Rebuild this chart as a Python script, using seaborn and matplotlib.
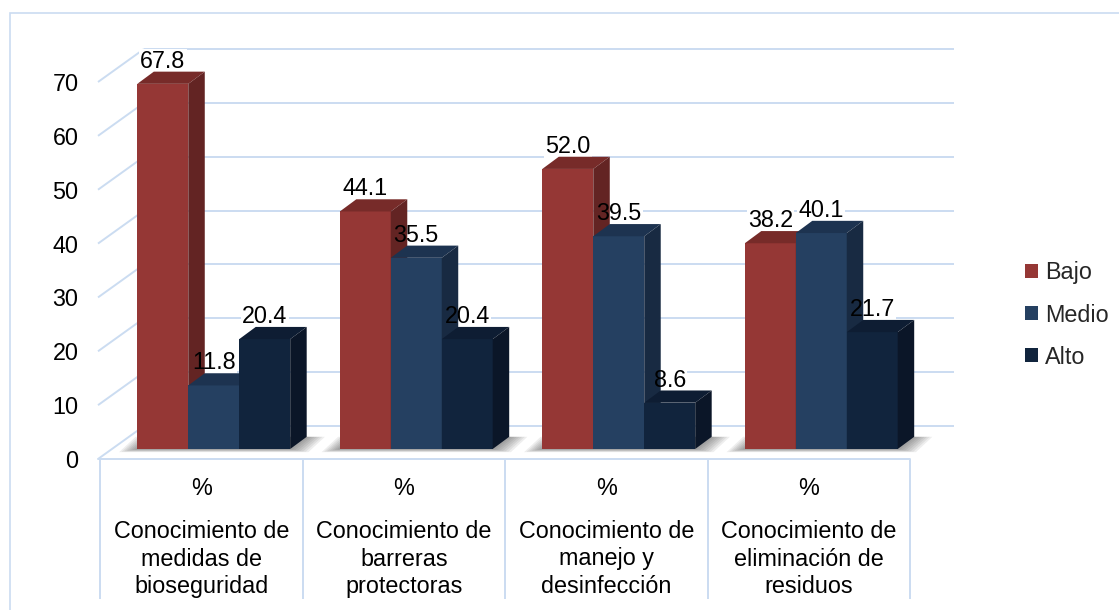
import numpy as np
import pandas as pd
import matplotlib
matplotlib.use("Agg")
import matplotlib.pyplot as plt
import seaborn as sns
from matplotlib.patches import Polygon, Rectangle, Patch
from matplotlib.transforms import ScaledTranslation

# ---- data -------------------------------------------------------------
categories = [
    "Conocimiento de\nmedidas de\nbioseguridad",
    "Conocimiento de\nbarreras\nprotectoras",
    "Conocimiento de\nmanejo y\ndesinfección",
    "Conocimiento de\neliminación de\nresiduos",
]
sub_label = "%"
levels = ["Bajo", "Medio", "Alto"]
bajo = [67.8, 44.1, 52.0, 38.2]
medio = [11.8, 35.5, 39.5, 40.1]
alto = [20.4, 20.4, 8.6, 21.7]
y_ticks = [0, 10, 20, 30, 40, 50, 60, 70]

df = pd.DataFrame({
    "categoria": categories * 3,
    "nivel": np.repeat(levels, len(categories)),
    "valor": bajo + medio + alto,
})

# ---- style ------------------------------------------------------------
sns.set_theme(style="white")
plt.rcParams["font.family"] = ["Liberation Sans", "DejaVu Sans"]
FS = 16.8
GRID = "#cbdcf1"

front_col = {"Bajo": "#953735", "Medio": "#254061", "Alto": "#11243d"}
top_col = {"Bajo": "#772b29", "Medio": "#1d3350", "Alto": "#0e1d33"}
side_col = {"Bajo": "#632423", "Medio": "#182a42", "Alto": "#0b1628"}

W, H = 1119, 610
fig = plt.figure(figsize=(W / 100, H / 100), dpi=100)
fig.patch.set_facecolor("white")

# front plane of the 3-D box: floor edge at y=459 px, 70 at y=82 px
ax_left, ax_right, ax_floor, ax_top = 100, 910, 459, 82
ax = fig.add_axes([ax_left / W, (H - ax_floor) / H,
                   (ax_right - ax_left) / W, (ax_floor - ax_top) / H])

sns.barplot(data=df, x="categoria", y="valor", hue="nivel", hue_order=levels,
            order=categories, palette=front_col, saturation=1, width=0.755,
            linewidth=0, edgecolor="none", legend=False, ax=ax)
ax.set_xlim(-0.5, len(categories) - 0.5)
ax.set_ylim(0, 70)

# data units per pixel
kx = (len(categories)) / (ax_right - ax_left)
ky = 70 / (ax_floor - ax_top)

# perspective offsets in pixels
BACK = (44, 33)      # front plane -> back wall
BAR = (12.5, 10)     # front plane -> front face of bars
DEPTH = (16.5, 12.2)  # thickness of each bar

def shifted(dx, dy):
    return ax.transData + ScaledTranslation(dx / 100, dy / 100, fig.dpi_scale_trans)

back_tr = shifted(*BACK)
bar_tr = shifted(*BAR)
ddx, ddy = DEPTH[0] * kx, DEPTH[1] * ky

# back wall grid and side wall diagonals
ax.hlines(y_ticks, -0.5, len(categories) - 0.5, colors=GRID, lw=1.4,
          transform=back_tr, zorder=0.5, clip_on=False)
for v in y_ticks:
    ax.plot([-0.5 - 2 * kx, -0.5 + BACK[0] * kx], [v, v + BACK[1] * ky],
            color=GRID, lw=1.4, zorder=0.5, clip_on=False, solid_capstyle="butt")
# floor front edge and category table
ax.plot([-0.5 - 2 * kx, len(categories) - 0.5], [0, 0], color=GRID, lw=1.4,
        zorder=0.6, clip_on=False)
ax.vlines(np.arange(len(categories) + 1) - 0.5, -(599 - ax_floor) * ky, 0,
          colors=GRID, lw=1.4, zorder=0.6, clip_on=False)

# ---- 3-D bars built from the seaborn rectangles ----------------------
bars = list(ax.patches)
bw = bars[0].get_width()
label_tr = bar_tr + ScaledTranslation(0, 0.16, fig.dpi_scale_trans)
groups = {}
for p in bars:
    x, w, h = p.get_x(), p.get_width(), p.get_height()
    xc = x + w / 2
    cat = int(round(xc))
    j = int(round((xc - cat) / bw)) + 1
    lvl = levels[j]
    groups.setdefault(cat, []).append((x, w))
    p.set_transform(bar_tr)
    p.set_zorder(3 + 2 * j)
    p.set_clip_on(False)
    top = Polygon([(x, h), (x + w, h), (x + w + ddx, h + ddy), (x + ddx, h + ddy)],
                  closed=True, fc=top_col[lvl], ec="none", transform=bar_tr,
                  zorder=3.5 + 2 * j, clip_on=False)
    side = Polygon([(x + w, 0), (x + w + ddx, ddy), (x + w + ddx, h + ddy), (x + w, h)],
                   closed=True, fc=side_col[lvl], ec="none", transform=bar_tr,
                   zorder=3.5 + 2 * j, clip_on=False)
    ax.add_patch(top)
    ax.add_patch(side)
    # white label box sits behind the bars, the number itself in front
    ax.text(xc, h, f"{h:.1f}", transform=label_tr, ha="center", va="baseline",
            fontsize=FS, color="none", zorder=2,
            bbox=dict(fc="white", ec="none", pad=0.8), clip_on=False)
    ax.text(xc, h, f"{h:.1f}", transform=label_tr, ha="center", va="baseline",
            fontsize=FS, color="black", zorder=20, clip_on=False)

# soft shadow on the floor under each group
for cat, items in groups.items():
    x0 = min(x for x, w in items)
    x1 = max(x + w for x, w in items)
    for k in range(1, 8):
        ex = k * 2.6 * kx
        ey = k * 0.45 * ky
        poly = Polygon([(x0 - ex, -ey), (x1 + ex, -ey), (x1 + ddx + ex, ddy),
                        (x0 + ddx - ex, ddy)], closed=True, fc="#3a3a3a",
                       ec="none", alpha=0.085, transform=bar_tr, zorder=1,
                       clip_on=False)
        ax.add_patch(poly)

# ---- axes text ---------------------------------------------------------
ax.set_yticks(y_ticks)
ax.set_yticklabels([str(t) for t in y_ticks])
ax.tick_params(axis="y", length=0, pad=15.5, labelsize=FS, labelcolor="black")
ax.set_xticks([])
ax.set_xlabel("")
ax.set_ylabel("")
for s in ax.spines.values():
    s.set_visible(False)
ax.set_facecolor("none")

for i, name in enumerate(categories):
    ax.text(i, -(495 - ax_floor) * ky, sub_label, ha="center", va="baseline",
            fontsize=FS, color="black", clip_on=False)
    for n, line in enumerate(name.split("\n")):
        ax.text(i, -(538 - ax_floor + 27.5 * n) * ky, line, ha="center",
                va="baseline", fontsize=FS, color="black", clip_on=False)

handles = [Patch(fc=front_col[l], ec="none") for l in levels]
ax.legend(handles, levels, loc="center left", bbox_to_anchor=(1025 / W, (H - 315) / H),
          bbox_transform=fig.transFigure, frameon=False, fontsize=FS,
          handlelength=0.55, handleheight=0.55, handletextpad=0.3,
          labelspacing=0.82, borderpad=0, borderaxespad=0)

# outer chart border
fig.add_artist(Rectangle((10 / W, -0.1), 1.2, (H - 13) / H + 0.1,
                         transform=fig.transFigure, fill=False, ec=GRID, lw=1.2))

fig.savefig("out.png", dpi=100, facecolor="white")
